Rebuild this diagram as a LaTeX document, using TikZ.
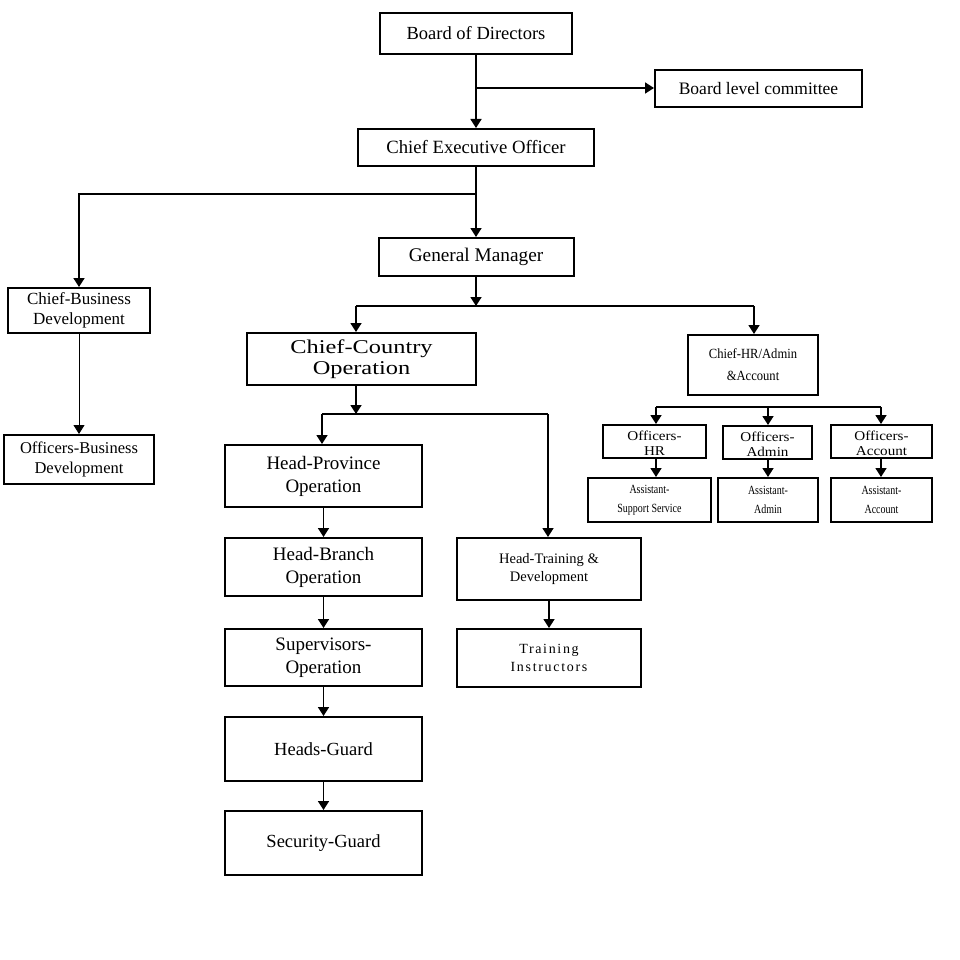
\documentclass[tikz,border=0pt]{standalone}
\usepackage{fontspec}
\setmainfont{Liberation Serif}
\newfontfamily\widefont[FakeStretch=1.25]{Liberation Serif}
\newfontfamily\offfont[FakeStretch=1.12]{Liberation Serif}
\newfontfamily\narrowfont[FakeStretch=0.8]{Liberation Serif}
\newfontfamily\hrfont[FakeStretch=0.9]{Liberation Serif}
\newfontfamily\spacedfont[LetterSpace=12]{Liberation Serif}
\usetikzlibrary{arrows.meta}
\newcommand{\fs}[2]{\fontsize{#1}{#2}\selectfont}
\newcommand{\offtext}[2]{\raisebox{-3.5pt}[\height][\depth]{\begin{tabular}{@{}c@{}}#1\\#2\end{tabular}}}
\begin{document}
\begin{tikzpicture}[x=1pt,y=-1pt,
  box/.style={draw=black, line width=2pt, fill=white, inner sep=0pt, align=center},
  conn/.style={line width=1.7pt, -{Triangle[width=11pt,length=9pt]}},
  thinconn/.style={line width=0.9pt, -{Triangle[width=11pt,length=9pt]}},
  busline/.style={line width=2.2pt}]
\useasboundingbox (0,0) rectangle (960,960);
\fill[white] (0,0) rectangle (960,960);

% top level
\node[box, minimum width=192pt, minimum height=41pt, font=\fs{18.5}{22}] (bod) at (476,33.5) {Board of Directors};
\node[box, minimum width=207pt, minimum height=37pt, font=\fs{17.5}{20}] (blc) at (758.5,88.5) {Board level committee};
\node[box, minimum width=236pt, minimum height=37pt, font=\fs{18.7}{21}] (ceo) at (476,147.5) {Chief Executive Officer};
\node[box, minimum width=195pt, minimum height=38pt, font=\fs{19.3}{22}] (gm) at (476,257) {General Manager};

% business development
\node[box, minimum width=142pt, minimum height=45pt, font=\fs{17}{20}] (cbd) at (79,310.5) {Chief-Business\\Development};
\node[box, minimum width=150pt, minimum height=49pt, font=\fs{16.5}{20}] (obd) at (79,459.5) {Officers-Business\\Development};

% country operation
\node[box, minimum width=229pt, minimum height=52pt, font=\widefont\fs{19.5}{21.5}] (cco) at (361.5,359) {Chief-Country\\Operation};
\node[box, minimum width=197pt, minimum height=62pt, font=\fs{19}{23}] (hpo) at (323.5,476) {Head-Province\\Operation};
\node[box, minimum width=197pt, minimum height=58pt, font=\fs{19}{23}] (hbo) at (323.5,567) {Head-Branch\\Operation};
\node[box, minimum width=197pt, minimum height=57pt, font=\fs{19}{23}] (sup) at (323.5,657.5) {Supervisors-\\Operation};
\node[box, minimum width=197pt, minimum height=64pt, font=\fs{18.5}{22}] (hg) at (323.5,749) {Heads-Guard};
\node[box, minimum width=197pt, minimum height=64pt, font=\fs{18.5}{22}] (sg) at (323.5,843) {Security-Guard};
\node[box, minimum width=184pt, minimum height=62pt, font=\fs{14.5}{18}] (htd) at (549,569) {Head-Training \&\\Development};
\node[box, minimum width=184pt, minimum height=58pt, font=\spacedfont\fs{14}{18}] (ti) at (549,658) {Training\\Instructors};

% HR / admin / account
\node[box, minimum width=130pt, minimum height=60pt, font=\hrfont\fs{14}{22}] (chr) at (753,365) {Chief-HR/Admin\\\&Account};
\node[box, minimum width=103pt, minimum height=33pt, font=\offfont\fs{13.5}{15}] (ohr) at (654.5,441.5) {\offtext{Officers-}{HR}};
\node[box, minimum width=89pt, minimum height=33pt, font=\offfont\fs{13.5}{15}] (oad) at (767.5,442.5) {\offtext{Officers-}{Admin}};
\node[box, minimum width=101pt, minimum height=33pt, font=\offfont\fs{13.5}{15}] (oac) at (881.5,441.5) {\offtext{Officers-}{Account}};
\node[box, minimum width=123pt, minimum height=44pt, font=\narrowfont\fs{12.5}{19}] (ass) at (649.5,500) {Assistant-\\Support Service};
\node[box, minimum width=100pt, minimum height=44pt, font=\narrowfont\fs{12.5}{19}] (aad) at (768,500) {Assistant-\\Admin};
\node[box, minimum width=101pt, minimum height=44pt, font=\narrowfont\fs{12.5}{19}] (aac) at (881.5,500) {Assistant-\\Account};

% coordinates
\coordinate (j1) at (476,88);
\coordinate (j2) at (476,194);
\coordinate (j3) at (476,306);
\coordinate (b1) at (356,306);
\coordinate (b2) at (754,306);
\coordinate (c1) at (356,414);
\coordinate (c2) at (322,414);
\coordinate (c3) at (548,414);
\coordinate (h1) at (656,407);
\coordinate (h2) at (768,407);
\coordinate (h3) at (881,407);

% connectors
\draw[conn] (bod.south) -- (ceo.north);
\draw[conn] (j1) -- (j1 -| blc.west);
\draw[conn] (ceo.south) -- (j2) -| (cbd.north);
\draw[conn] (j2) -- (gm.north);
\draw[thinconn] (cbd.south) -- (obd.north);

\draw[busline] (b1) -- (b2);
\draw[conn] (gm.south) -- (j3);
\draw[conn] (b1) -- (b1 |- cco.north);
\draw[conn] (b2) -- (b2 |- chr.north);

\draw[busline] (c2) -- (c3);
\draw[conn] (c1 |- cco.south) -- (c1);
\draw[conn] (c2) -- (c2 |- hpo.north);
\draw[conn] (c3) -- (c3 |- htd.north);
\draw[conn] (hpo.south) -- (hbo.north);
\draw[conn] (hbo.south) -- (sup.north);
\draw[conn] (sup.south) -- (hg.north);
\draw[conn] (hg.south) -- (sg.north);
\draw[conn] (htd.south) -- (ti.north);

\draw[busline] (h1) -- (h3);
\draw[conn] (h1) -- (h1 |- ohr.north);
\draw[conn] (h2) -- (h2 |- oad.north);
\draw[conn] (h3) -- (h3 |- oac.north);
\draw[conn] (h1 |- ohr.south) -- (h1 |- ass.north);
\draw[conn] (h2 |- oad.south) -- (h2 |- aad.north);
\draw[conn] (h3 |- oac.south) -- (h3 |- aac.north);
\end{tikzpicture}
\end{document}
